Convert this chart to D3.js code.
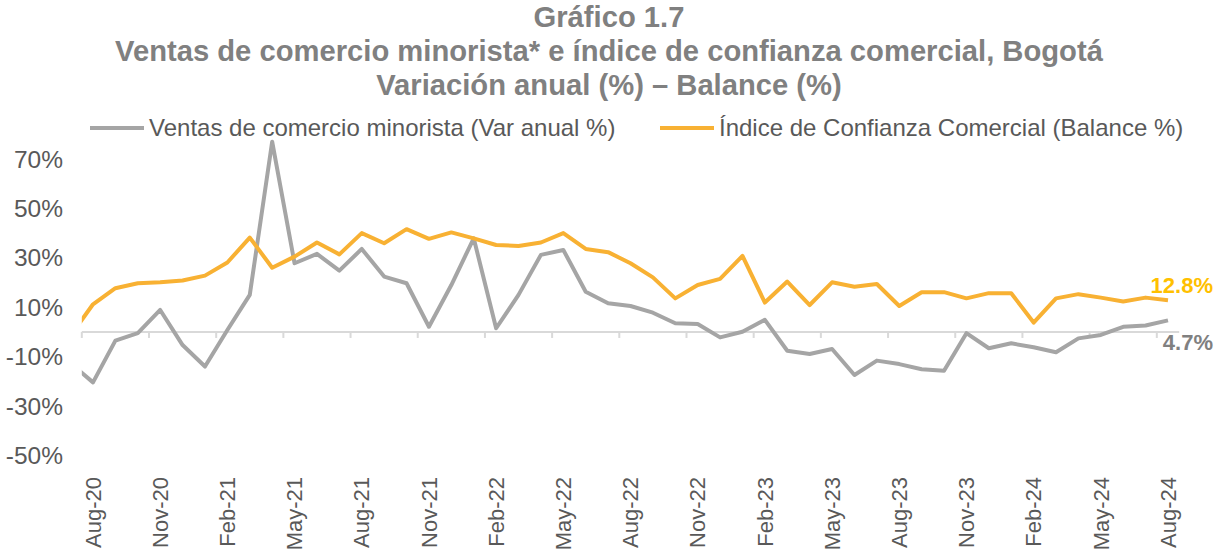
<!DOCTYPE html>
<html>
<head>
<meta charset="utf-8">
<script src="https://cdn.jsdelivr.net/npm/d3@7"></script>
<style>
  body { margin: 0; background: #fff; }
  text { font-family: "Liberation Sans", Arial, sans-serif; }
</style>
</head>
<body>
<div id="chart"></div>
<script>
// months from Jul-20 (first one is only partly visible) to Aug-24
const months = ["Jul-20",
  "Aug-20","Sep-20","Oct-20","Nov-20","Dec-20","Jan-21","Feb-21","Mar-21","Apr-21","May-21","Jun-21","Jul-21",
  "Aug-21","Sep-21","Oct-21","Nov-21","Dec-21","Jan-22","Feb-22","Mar-22","Apr-22","May-22","Jun-22","Jul-22",
  "Aug-22","Sep-22","Oct-22","Nov-22","Dec-22","Jan-23","Feb-23","Mar-23","Apr-23","May-23","Jun-23","Jul-23",
  "Aug-23","Sep-23","Oct-23","Nov-23","Dec-23","Jan-24","Feb-24","Mar-24","Apr-24","May-24","Jun-24","Jul-24",
  "Aug-24"]

const ventas = [-12.6,
  -20.4, -3.5, -0.5, 8.9, -5.3, -14.0, 0.8, 15.0, 77.0, 27.8, 31.6, 24.8,
  33.6, 22.4, 19.7, 2.1, 19.0, 37.9, 1.5, 15.0, 31.2, 33.2, 16.3, 11.6,
  10.5, 7.8, 3.5, 3.2, -2.2, 0.1, 4.9, -7.6, -8.9, -6.9, -17.4, -11.6,
  -13.0, -15.1, -15.7, -0.5, -6.6, -4.6, -6.2, -8.2, -2.6, -1.2, 2.1, 2.6,
  4.7]

const confianza = [-1.4,
  11.2, 17.7, 19.7, 20.1, 20.8, 22.8, 28.1, 38.2, 26.0, 30.5, 36.2, 31.4,
  40.0, 35.9, 41.6, 37.7, 40.3, 37.9, 35.2, 34.8, 36.2, 40.0, 33.6, 32.3,
  27.8, 22.1, 13.6, 19.0, 21.5, 30.8, 11.9, 20.4, 10.9, 20.1, 18.3, 19.4,
  10.5, 16.1, 16.1, 13.6, 15.7, 15.7, 3.8, 13.6, 15.3, 13.9, 12.3, 13.9,
  12.8]

const yTicks = [-50, -30, -10, 10, 30, 50, 70]
const xLabels = ["Aug-20","Nov-20","Feb-21","May-21","Aug-21","Nov-21","Feb-22","May-22","Aug-22",
  "Nov-22","Feb-23","May-23","Aug-23","Nov-23","Feb-24","May-24","Aug-24"]

const W = 1215, H = 552
const gray = "#a5a5a5", orange = "#f8b133"

const svg = d3.select("#chart").append("svg")
    .attr("width", W)
    .attr("height", H)

// index 0 = Jul-20, index 1 = Aug-20
const x = d3.scaleLinear().domain([1, 49]).range([93, 1168])
const y = d3.scaleLinear().domain([-50, 70]).range([455.5, 159])
const left = x(0.5), right = x(49.5)

// titles
const titles = ["Gráfico 1.7",
  "Ventas de comercio minorista* e índice de confianza comercial, Bogotá",
  "Variación anual (%) – Balance (%)"]
svg.selectAll("text.title")
    .data(titles)
    .enter().append("text")
    .attr("class", "title")
    .attr("x", 609)
    .attr("y", (d, i) => 27 + i * 34)
    .attr("text-anchor", "middle")
    .attr("font-size", 29.2)
    .attr("font-weight", "bold")
    .attr("fill", "#808080")
    .text(d => d)

// legend
const legend = [
  {name: "Ventas de comercio minorista (Var anual %)", color: gray, x: 90},
  {name: "Índice de Confianza Comercial (Balance %)", color: orange, x: 660}
]
const lg = svg.selectAll("g.legend")
    .data(legend)
    .enter().append("g")
    .attr("class", "legend")
    .attr("transform", d => `translate(${d.x},128)`)
lg.append("line")
    .attr("x1", 0).attr("x2", 54)
    .attr("stroke", d => d.color)
    .attr("stroke-width", 4)
lg.append("text")
    .attr("x", 59)
    .attr("dy", "0.35em")
    .attr("font-size", 24)
    .attr("fill", "#595959")
    .text(d => d.name)

// y tick labels (no axis line)
svg.selectAll("text.ytick")
    .data(yTicks)
    .enter().append("text")
    .attr("class", "ytick")
    .attr("x", 63)
    .attr("y", d => y(d))
    .attr("dy", "0.35em")
    .attr("text-anchor", "end")
    .attr("font-size", 24.5)
    .attr("fill", "#595959")
    .text(d => d + "%")

// zero axis with tick marks between categories
svg.append("line")
    .attr("x1", left).attr("x2", right)
    .attr("y1", y(0)).attr("y2", y(0))
    .attr("stroke", "#d9d9d9")
    .attr("stroke-width", 2)

const tickIdx = d3.range(0.5, 49, 3)
svg.selectAll("line.tick")
    .data(tickIdx)
    .enter().append("line")
    .attr("class", "tick")
    .attr("x1", d => x(d)).attr("x2", d => x(d))
    .attr("y1", y(0)).attr("y2", y(0) + 6)
    .attr("stroke", "#d9d9d9")
    .attr("stroke-width", 2)

// x labels, rotated
svg.selectAll("text.xlab")
    .data(xLabels)
    .enter().append("text")
    .attr("class", "xlab")
    .attr("transform", d => `translate(${x(months.indexOf(d))},477) rotate(-90)`)
    .attr("dy", "0.35em")
    .attr("text-anchor", "end")
    .attr("font-size", 22)
    .attr("fill", "#595959")
    .text(d => d)

// lines
svg.append("clipPath").attr("id", "clip")
  .append("rect")
    .attr("x", left).attr("y", 0)
    .attr("width", right - left).attr("height", H)

const line = d3.line()
    .x((d, i) => x(i))
    .y(d => y(d))

svg.append("path")
    .datum(ventas)
    .attr("clip-path", "url(#clip)")
    .attr("fill", "none")
    .attr("stroke", gray)
    .attr("stroke-width", 4)
    .attr("stroke-linejoin", "round")
    .attr("d", line)

svg.append("path")
    .datum(confianza)
    .attr("clip-path", "url(#clip)")
    .attr("fill", "none")
    .attr("stroke", orange)
    .attr("stroke-width", 4)
    .attr("stroke-linejoin", "round")
    .attr("d", line)

// end labels
const last = months.length - 1
svg.append("text")
    .attr("x", 1213)
    .attr("y", y(confianza[last]) - 15)
    .attr("dy", "0.35em")
    .attr("text-anchor", "end")
    .attr("font-size", 22)
    .attr("font-weight", "bold")
    .attr("fill", "#ffc000")
    .text(confianza[last].toFixed(1) + "%")

svg.append("text")
    .attr("x", 1213)
    .attr("y", y(ventas[last]) + 22)
    .attr("dy", "0.35em")
    .attr("text-anchor", "end")
    .attr("font-size", 22)
    .attr("font-weight", "bold")
    .attr("fill", "#808080")
    .text(ventas[last].toFixed(1) + "%")
</script>
</body>
</html>
